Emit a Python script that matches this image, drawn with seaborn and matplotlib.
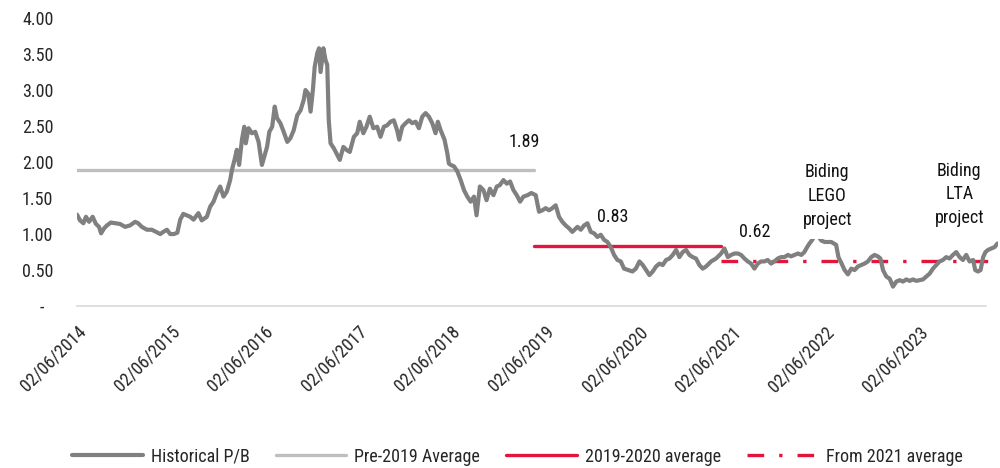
import numpy as np
import pandas as pd
import matplotlib
matplotlib.use("Agg")
import matplotlib.pyplot as plt
import matplotlib.dates as mdates
from matplotlib.ticker import FuncFormatter
from matplotlib import font_manager
import seaborn as sns

# Historical price-to-book series
dates = [
    "2014-06-02", "2014-06-14", "2014-06-27", "2014-07-07", "2014-07-19", "2014-08-02",
    "2014-08-15", "2014-08-27", "2014-09-04", "2014-09-16", "2014-09-27", "2014-10-12",
    "2014-10-29", "2014-11-17", "2014-12-07", "2014-12-26", "2015-01-15", "2015-01-27",
    "2015-02-10", "2015-03-02", "2015-03-21", "2015-04-07", "2015-04-23", "2015-05-05",
    "2015-05-19", "2015-06-01", "2015-06-16", "2015-06-29", "2015-07-10", "2015-07-22",
    "2015-08-05", "2015-08-18", "2015-08-31", "2015-09-13", "2015-09-19", "2015-10-02",
    "2015-10-22", "2015-11-04", "2015-11-17", "2015-11-30", "2015-12-13", "2015-12-26",
    "2016-01-08", "2016-01-21", "2016-01-28", "2016-02-07", "2016-02-16", "2016-02-25",
    "2016-03-07", "2016-03-16", "2016-03-22", "2016-04-02", "2016-04-15", "2016-04-28",
    "2016-05-11", "2016-05-24", "2016-06-04", "2016-06-13", "2016-06-22", "2016-07-03",
    "2016-07-13", "2016-07-22", "2016-08-04", "2016-08-17", "2016-08-31", "2016-09-12",
    "2016-09-25", "2016-10-09", "2016-10-22", "2016-11-03", "2016-11-10", "2016-11-21",
    "2016-11-30", "2016-12-09", "2016-12-16", "2016-12-26", "2017-01-02", "2017-01-08",
    "2017-01-19", "2017-01-27", "2017-02-03", "2017-02-09", "2017-02-16", "2017-03-01",
    "2017-03-14", "2017-03-24", "2017-04-07", "2017-04-19", "2017-05-02", "2017-05-18",
    "2017-05-31", "2017-06-10", "2017-06-24", "2017-07-06", "2017-07-19", "2017-08-02",
    "2017-08-17", "2017-08-30", "2017-09-12", "2017-09-25", "2017-10-08", "2017-10-21",
    "2017-11-03", "2017-11-11", "2017-11-23", "2017-12-06", "2017-12-19", "2018-01-01",
    "2018-01-14", "2018-01-27", "2018-02-09", "2018-02-22", "2018-03-07", "2018-03-20",
    "2018-04-02", "2018-04-11", "2018-04-22", "2018-05-07", "2018-05-18", "2018-05-24",
    "2018-05-31", "2018-06-13", "2018-06-26", "2018-07-09", "2018-07-22", "2018-08-04",
    "2018-08-17", "2018-08-30", "2018-09-09", "2018-09-22", "2018-10-06", "2018-10-18",
    "2018-10-31", "2018-11-14", "2018-11-27", "2018-12-09", "2018-12-23", "2019-01-05",
    "2019-01-18", "2019-01-31", "2019-02-13", "2019-02-26", "2019-03-11", "2019-03-27",
    "2019-04-11", "2019-04-28", "2019-05-11", "2019-05-24", "2019-06-06", "2019-06-19",
    "2019-07-02", "2019-07-15", "2019-07-28", "2019-08-10", "2019-08-23", "2019-09-05",
    "2019-09-18", "2019-10-08", "2019-10-21", "2019-11-03", "2019-11-16", "2019-11-29",
    "2019-12-12", "2019-12-25", "2020-01-07", "2020-01-20", "2020-02-02", "2020-02-15",
    "2020-02-28", "2020-03-12", "2020-03-25", "2020-04-07", "2020-04-23", "2020-05-10",
    "2020-05-23", "2020-06-06", "2020-06-19", "2020-07-02", "2020-07-15", "2020-07-28",
    "2020-08-10", "2020-08-23", "2020-09-05", "2020-09-18", "2020-10-01", "2020-10-14",
    "2020-10-27", "2020-11-09", "2020-11-22", "2020-12-05", "2020-12-18", "2020-12-31",
    "2021-01-13", "2021-01-26", "2021-02-08", "2021-02-21", "2021-03-13", "2021-04-01",
    "2021-04-21", "2021-05-04", "2021-05-17", "2021-05-30", "2021-06-12", "2021-06-25",
    "2021-07-08", "2021-07-21", "2021-08-03", "2021-08-16", "2021-08-29", "2021-09-11",
    "2021-09-24", "2021-10-07", "2021-10-20", "2021-11-02", "2021-11-15", "2021-11-28",
    "2021-12-11", "2021-12-24", "2022-01-07", "2022-01-19", "2022-02-01", "2022-02-15",
    "2022-02-28", "2022-03-12", "2022-03-23", "2022-04-01", "2022-04-10", "2022-04-23",
    "2022-05-05", "2022-05-17", "2022-05-30", "2022-06-13", "2022-06-25", "2022-07-14",
    "2022-07-23", "2022-08-03", "2022-08-16", "2022-08-29", "2022-09-11", "2022-09-24",
    "2022-10-07", "2022-10-20", "2022-11-02", "2022-11-15", "2022-11-28", "2022-12-11",
    "2022-12-24", "2023-01-03", "2023-01-13", "2023-01-26", "2023-02-08", "2023-02-21",
    "2023-03-06", "2023-03-19", "2023-04-01", "2023-04-14", "2023-04-27", "2023-05-10",
    "2023-05-23", "2023-06-05", "2023-06-18", "2023-07-01", "2023-07-14", "2023-07-27",
    "2023-08-09", "2023-08-22", "2023-09-04", "2023-09-17", "2023-09-30", "2023-10-13",
    "2023-10-26", "2023-11-08", "2023-11-21", "2023-12-04", "2023-12-17", "2023-12-31",
    "2024-01-08", "2024-01-19", "2024-01-29", "2024-02-08", "2024-02-17", "2024-02-27",
    "2024-03-11", "2024-03-24", "2024-04-04",
]
pb_ratio = [
    1.27, 1.19, 1.15, 1.24, 1.17, 1.24,
    1.14, 1.10, 1.01, 1.08, 1.12, 1.16,
    1.15, 1.14, 1.10, 1.12, 1.17, 1.15,
    1.10, 1.06, 1.06, 1.03, 1.00, 1.03,
    1.06, 1.00, 1.00, 1.02, 1.20, 1.28,
    1.26, 1.24, 1.20, 1.26, 1.29, 1.19,
    1.24, 1.38, 1.45, 1.57, 1.66, 1.52,
    1.59, 1.75, 1.89, 2.03, 2.17, 1.96,
    2.31, 2.49, 2.26, 2.47, 2.40, 2.42,
    2.28, 1.96, 2.10, 2.21, 2.42, 2.49,
    2.77, 2.61, 2.54, 2.42, 2.28, 2.33,
    2.44, 2.65, 2.72, 2.86, 3.00, 2.95,
    2.70, 3.00, 3.32, 3.51, 3.58, 3.25,
    3.58, 3.42, 3.35, 2.58, 2.26, 2.19,
    2.10, 2.03, 2.21, 2.17, 2.14, 2.35,
    2.40, 2.56, 2.40, 2.49, 2.63, 2.47,
    2.49, 2.35, 2.49, 2.51, 2.56, 2.58,
    2.44, 2.31, 2.49, 2.54, 2.58, 2.54,
    2.56, 2.47, 2.63, 2.68, 2.63, 2.54,
    2.40, 2.56, 2.44, 2.31, 2.12, 1.98,
    1.96, 1.94, 1.87, 1.75, 1.61, 1.52,
    1.45, 1.52, 1.26, 1.66, 1.61, 1.47,
    1.63, 1.54, 1.66, 1.68, 1.75, 1.70,
    1.73, 1.61, 1.54, 1.45, 1.52, 1.54,
    1.57, 1.54, 1.31, 1.33, 1.36, 1.33,
    1.36, 1.40, 1.24, 1.17, 1.12, 1.08,
    1.03, 1.10, 1.06, 1.12, 1.15, 1.03,
    1.01, 0.96, 0.99, 0.92, 0.89, 0.82,
    0.71, 0.64, 0.62, 0.52, 0.50, 0.48,
    0.52, 0.62, 0.57, 0.50, 0.43, 0.48,
    0.55, 0.59, 0.57, 0.64, 0.66, 0.71,
    0.78, 0.68, 0.75, 0.78, 0.71, 0.68,
    0.66, 0.57, 0.52, 0.55, 0.62, 0.66,
    0.73, 0.80, 0.68, 0.71, 0.73, 0.73,
    0.71, 0.66, 0.62, 0.59, 0.52, 0.59,
    0.62, 0.62, 0.64, 0.59, 0.62, 0.66,
    0.68, 0.68, 0.71, 0.69, 0.71, 0.73,
    0.71, 0.75, 0.82, 0.87, 0.91, 0.99,
    0.97, 0.91, 0.89, 0.89, 0.89, 0.85,
    0.68, 0.60, 0.50, 0.44, 0.52, 0.50,
    0.55, 0.57, 0.59, 0.62, 0.68, 0.71,
    0.69, 0.66, 0.50, 0.41, 0.38, 0.27,
    0.34, 0.36, 0.34, 0.37, 0.35, 0.37,
    0.35, 0.36, 0.37, 0.41, 0.45, 0.52,
    0.57, 0.62, 0.64, 0.68, 0.66, 0.71,
    0.75, 0.68, 0.64, 0.71, 0.62, 0.64,
    0.50, 0.48, 0.50, 0.68, 0.75, 0.78,
    0.80, 0.82, 0.87,
]

# Period averages
avg_labels = ["Pre-2019 Average", "2019-2020 average", "From 2021 average"]
avg_starts = ["2014-06-02", "2019-04-20", "2021-04-21"]
avg_ends = ["2019-04-20", "2021-04-21", "2024-04-06"]
avg_values = [1.89, 0.83, 0.62]

year_ticks = ["2014-06-02", "2015-06-02", "2016-06-02", "2017-06-02", "2018-06-02",
              "2019-06-02", "2020-06-02", "2021-06-02", "2022-06-02", "2023-06-02"]
y_ticks = [0.0, 0.5, 1.0, 1.5, 2.0, 2.5, 3.0, 3.5, 4.0]

sns.set_style("white")

# Prefer a narrow sans face when one is installed
available = {f.name for f in font_manager.fontManager.ttflist}
narrow = [n for n in ["Liberation Sans Narrow", "Arial Narrow", "Roboto Condensed",
                      "Open Sans Condensed", "DejaVu Sans Condensed"] if n in available]
condensed_dejavu = any(f.name == "DejaVu Sans" and str(f.stretch) in ("condensed", "semi-condensed")
                       for f in font_manager.fontManager.ttflist)
if narrow:
    plt.rcParams["font.family"] = [narrow[0], "DejaVu Sans"]
    FS = 13
elif condensed_dejavu:
    plt.rcParams["font.family"] = ["DejaVu Sans"]
    plt.rcParams["font.stretch"] = "condensed"
    FS = 12
else:
    plt.rcParams["font.family"] = ["Liberation Sans", "DejaVu Sans"]
    FS = 12
plt.rcParams["font.size"] = FS

GREY = "#808080"
LIGHT = "#bfbfbf"
RED = "#e2163c"

fig = plt.figure(figsize=(10, 4.68), dpi=100)
ax = fig.add_axes([0.077, 0.346, 0.921, 0.6155])

hist = pd.DataFrame({"date": pd.to_datetime(dates), "pb": pb_ratio})
sns.lineplot(data=hist, x="date", y="pb", ax=ax, color=GREY, linewidth=3.0,
             label="Historical P/B", zorder=3)

styles = [
    dict(color=LIGHT, linewidth=2.4),
    dict(color=RED, linewidth=2.4),
    dict(color=RED, linewidth=2.4, dashes=(5, 4.5, 1, 4.5)),
]
for lab, s, e, v, st in zip(avg_labels, avg_starts, avg_ends, avg_values, styles):
    seg = pd.DataFrame({"date": pd.to_datetime([s, e]), "value": [v, v]})
    kw = dict(st)
    dash = kw.pop("dashes", None)
    sns.lineplot(data=seg, x="date", y="value", ax=ax, label=lab, zorder=2, **kw)
    if dash is not None:
        ax.lines[-1].set_dashes(dash)

# Annotations
txt = dict(ha="center", va="center", fontsize=FS, color="#111111")
ax.text(pd.Timestamp("2019-03-16"), 2.28, "1.89", **txt)
ax.text(pd.Timestamp("2020-02-23"), 1.24, "0.83", **txt)
ax.text(pd.Timestamp("2021-09-01"), 1.03, "0.62", **txt)
box = dict(facecolor="white", edgecolor="none", pad=7)
ax.text(pd.Timestamp("2022-06-09"), 1.53, "Biding\nLEGO\nproject", zorder=6,
        bbox=box, linespacing=1.42, **txt)
ax.text(pd.Timestamp("2023-11-07"), 1.55, "Biding\nLTA\nproject", zorder=6,
        bbox=box, linespacing=1.42, **txt)

# Axes styling
ax.set_xlim(pd.Timestamp("2014-06-02"), pd.Timestamp("2024-04-06"))
ax.set_ylim(0, 4.0)
ax.set_yticks(y_ticks)
ax.yaxis.set_major_formatter(FuncFormatter(lambda v, p: "-\u2007" if v == 0 else f"{v:.2f}"))
ax.set_xticks(pd.to_datetime(year_ticks))
ax.xaxis.set_major_formatter(mdates.DateFormatter("%d/%m/%Y"))
ax.tick_params(axis="y", length=0, pad=17, labelsize=FS)
ax.tick_params(axis="x", length=0, pad=12, labelsize=FS)
for lbl in ax.get_xticklabels():
    lbl.set_rotation(45)
    lbl.set_ha("right")
    lbl.set_rotation_mode("anchor")
ax.set_xlabel("")
ax.set_ylabel("")
for side in ["top", "right", "left"]:
    ax.spines[side].set_visible(False)
ax.spines["bottom"].set_color("#d9d9d9")
ax.spines["bottom"].set_linewidth(1.2)
ax.spines["bottom"].set_bounds(mdates.date2num(pd.Timestamp("2014-06-02")),
                               mdates.date2num(pd.Timestamp("2024-02-21")))
ax.grid(False)

handles, labels = ax.get_legend_handles_labels()
ax.legend(handles, labels, loc="center", bbox_to_anchor=(0.5175, 0.024),
          bbox_transform=fig.transFigure, ncol=4, frameon=False, fontsize=FS,
          handlelength=3.9, handletextpad=0.45, columnspacing=1.45)

fig.savefig("out.png", dpi=100, facecolor="white")
